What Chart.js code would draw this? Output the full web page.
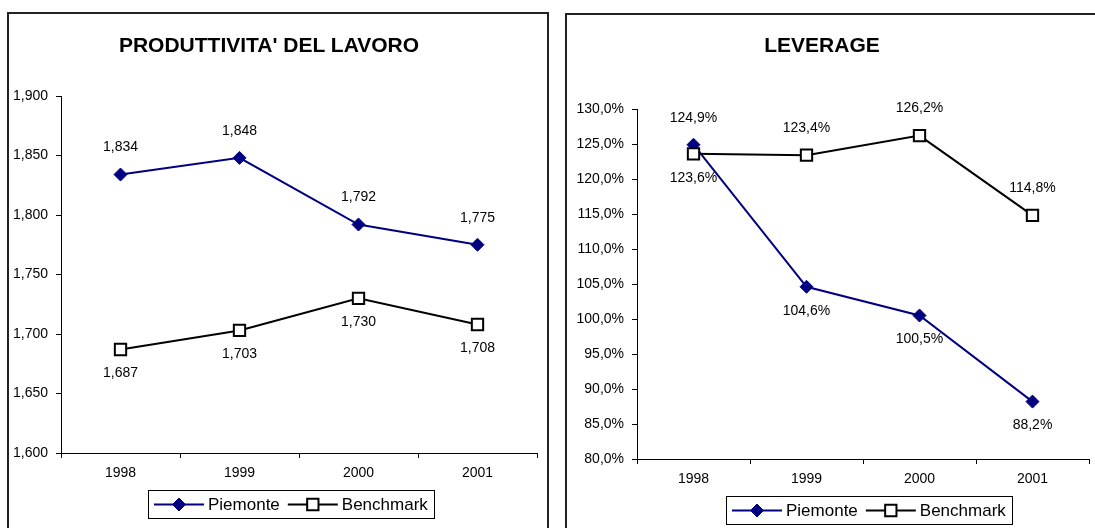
<!DOCTYPE html>
<html>
<head>
<meta charset="utf-8">
<script src="https://cdn.jsdelivr.net/npm/chart.js@4/dist/chart.umd.min.js"></script>
<style>
html, body { margin: 0; padding: 0; background: #fff; overflow: hidden; width: 1095px; height: 528px; }
.box { position: absolute; border: 2px solid #222; background: #fff; }
.box h2 { position: absolute; margin: 0; font: bold 21px 'Liberation Sans', Arial, sans-serif; color: #000; white-space: nowrap; transform: translate(-50%, -50%); }
canvas { position: absolute; left: 0; top: 0; }
</style>
</head>
<body>
<div class="box" style="left:7px;top:12px;width:538px;height:530px">
  <canvas id="prod" width="538" height="514"></canvas>
  <h2 style="left:260px;top:31px">PRODUTTIVITA' DEL LAVORO</h2>
</div>
<div class="box" style="left:565px;top:13px;width:540px;height:530px">
  <canvas id="lev" width="540" height="513"></canvas>
  <h2 style="left:255px;top:30px">LEVERAGE</h2>
</div>
<script>
const YEARS = ['1998', '1999', '2000', '2001'];
const SERIES = ['Piemonte', 'Benchmark'];

const PROD_PIEMONTE = [1834, 1848, 1792, 1775];
const PROD_BENCH = [1687, 1703, 1730, 1708];
const PROD_RANGE = [1600, 1900, 50];

const LEV_PIEMONTE = [124.9, 104.6, 100.5, 88.2];
const LEV_BENCH = [123.6, 123.4, 126.2, 114.8];
const LEV_RANGE = [80, 130, 5];

// where each value label sits: above or below its point
const PROD_LABEL_POS = [['up', 'up', 'up', 'up'], ['down', 'down', 'down', 'down']];
const LEV_LABEL_POS = [['up', 'down', 'down', 'down'], ['down', 'up', 'up', 'up']];

const NAVY = '#000080';
const FAMILY = "'Liberation Sans', Arial, sans-serif";
const FONT = { family: FAMILY, size: 14 };

const fmtProd = v => Number(v).toLocaleString('en-US');
const fmtLev = v => Number(v).toFixed(1).replace('.', ',') + '%';

function marker(ctx, ds, x, y) {
    ctx.fillStyle = ds.pointBackgroundColor;
    ctx.strokeStyle = ds.pointBorderColor;
    ctx.lineWidth = ds.pointBorderWidth;
    if (Chart.helpers && Chart.helpers.drawPoint) {
        Chart.helpers.drawPoint(ctx, { pointStyle: ds.pointStyle, radius: ds.pointRadius, borderWidth: ds.pointBorderWidth, rotation: 0 }, x, y);
        return;
    }
    const r = ds.pointRadius;
    ctx.beginPath();
    if (ds.pointStyle === 'rectRot') {
        ctx.moveTo(x - r, y); ctx.lineTo(x, y - r); ctx.lineTo(x + r, y); ctx.lineTo(x, y + r);
    } else {
        const s = r * Math.SQRT1_2;
        ctx.rect(x - s, y - s, 2 * s, 2 * s);
    }
    ctx.closePath();
    ctx.fill();
    if (ds.pointBorderWidth) ctx.stroke();
}

const valueLabels = {
    id: 'valueLabels',
    afterDatasetsDraw(chart, args, opts) {
        const ctx = chart.ctx;
        ctx.save();
        ctx.font = '14px ' + FAMILY;
        ctx.fillStyle = '#000';
        ctx.textAlign = 'center';
        ctx.textBaseline = 'middle';
        chart.data.datasets.forEach((ds, i) => {
            chart.getDatasetMeta(i).data.forEach((pt, j) => {
                const up = opts.pos[i][j] === 'up';
                ctx.fillText(opts.fmt(ds.data[j]), pt.x, pt.y + (up ? -27 : 24));
            });
        });
        ctx.restore();
    }
};

const boxLegend = {
    id: 'boxLegend',
    afterDraw(chart, args, opts) {
        const ctx = chart.ctx;
        ctx.save();
        ctx.font = '17px ' + FAMILY;
        const items = chart.data.datasets.map(ds => ({ ds, w: ctx.measureText(ds.label).width }));
        const total = 12 + items.reduce((a, it) => a + 54 + it.w, 0) + 8 * (items.length - 1);
        const top = Math.round(chart.chartArea.bottom + 37), h = 28;
        let x = Math.round(opts.cx - total / 2);
        ctx.strokeStyle = '#000';
        ctx.lineWidth = 1;
        ctx.strokeRect(x + 0.5, top + 0.5, Math.round(total), h);
        x += 6;
        const my = top + h / 2 + 0.5;
        items.forEach(it => {
            const ds = it.ds;
            ctx.strokeStyle = ds.borderColor;
            ctx.lineWidth = ds.borderWidth;
            ctx.beginPath();
            ctx.moveTo(x, my);
            ctx.lineTo(x + 50, my);
            ctx.stroke();
            marker(ctx, ds, x + 25, my);
            x += 54;
            ctx.fillStyle = '#000';
            ctx.textAlign = 'left';
            ctx.textBaseline = 'middle';
            ctx.fillText(ds.label, x, my + 1);
            x += it.w + 8;
        });
        ctx.restore();
    }
};

function datasets(a, b) {
    return [
        { label: SERIES[0], data: a, order: 1, borderColor: NAVY, backgroundColor: NAVY, borderWidth: 2, pointStyle: 'rectRot', pointRadius: 6.5, pointBackgroundColor: NAVY, pointBorderColor: NAVY, pointBorderWidth: 1, tension: 0 },
        { label: SERIES[1], data: b, order: 0, borderColor: '#000', backgroundColor: '#fff', borderWidth: 2, pointStyle: 'rect', pointRadius: 8, pointBackgroundColor: '#fff', pointBorderColor: '#000', pointBorderWidth: 2, tension: 0 }
    ];
}

function renderLineChart(id, a, b, range, fmt, labelPos, yWidth, padding, legendX) {
    const ctx = document.getElementById(id);
    return new Chart(ctx, {
        type: 'line',
        data: { labels: YEARS, datasets: datasets(a, b) },
        plugins: [valueLabels, boxLegend],
        options: {
            responsive: false,
            animation: false,
            events: [],
            layout: { padding },
            scales: {
                x: {
                    offset: true,
                    grid: { offset: true, drawOnChartArea: false, drawTicks: true, tickLength: 5, color: '#000' },
                    border: { color: '#000', width: 1 },
                    ticks: { color: '#000', font: FONT, padding: 7, maxRotation: 0 },
                    afterFit: s => { s.height = 30; }
                },
                y: {
                    min: range[0],
                    max: range[1],
                    grid: { drawOnChartArea: false, drawTicks: true, tickLength: 5, color: '#000' },
                    border: { color: '#000', width: 1 },
                    ticks: { stepSize: range[2], color: '#000', font: FONT, padding: 8, callback: v => fmt(v) },
                    afterFit: s => { s.width = yWidth; }
                }
            },
            plugins: {
                legend: { display: false },
                title: { display: false },
                tooltip: { enabled: false },
                valueLabels: { pos: labelPos, fmt },
                boxLegend: { cx: legendX }
            }
        }
    });
}

renderLineChart('prod', PROD_PIEMONTE, PROD_BENCH, PROD_RANGE, fmtProd, PROD_LABEL_POS, 52, { left: 0, top: 82, right: 4, bottom: 45 }, 282);
renderLineChart('lev', LEV_PIEMONTE, LEV_BENCH, LEV_RANGE, fmtLev, LEV_LABEL_POS, 70, { left: 0, top: 94, right: 18, bottom: 39 }, 302);
</script>
</body>
</html>
